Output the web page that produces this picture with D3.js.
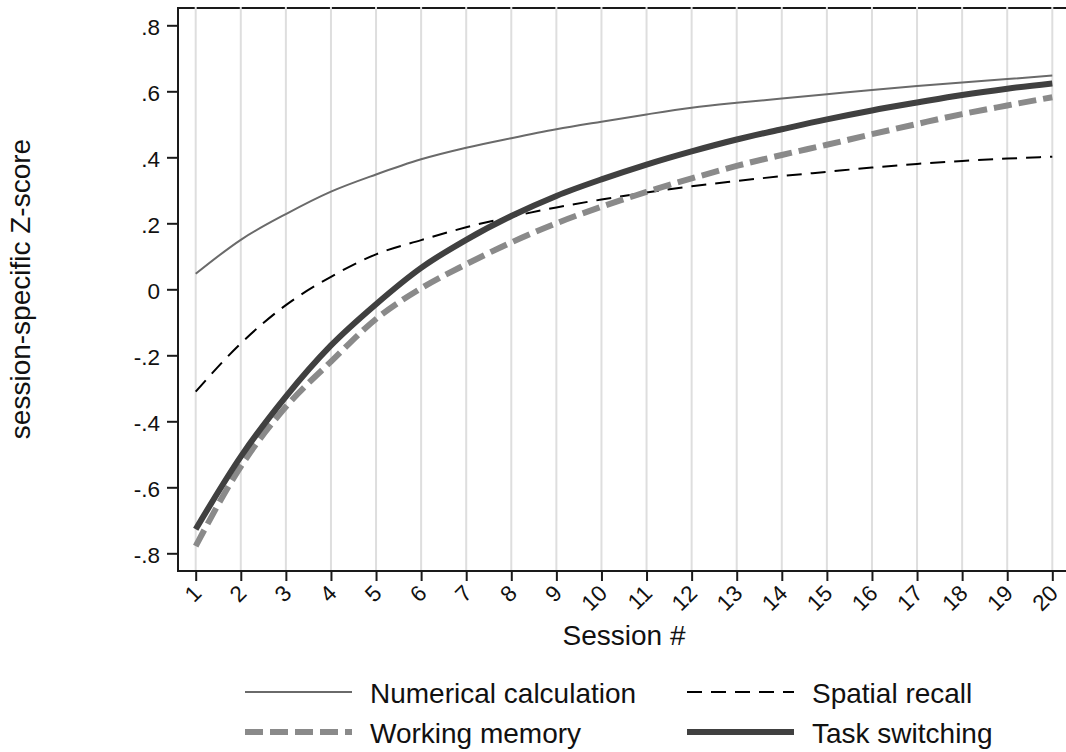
<!DOCTYPE html>
<html>
<head>
<meta charset="utf-8">
<script src="https://cdn.jsdelivr.net/npm/d3@7"></script>
<style>
  body { margin: 0; background: #fff; }
  svg { display: block; font-family: Arial, "Liberation Sans", sans-serif; }
</style>
</head>
<body>
<svg id="chart" width="1066" height="752"></svg>
<script>
// ---- data ----
const sessions = [1,2,3,4,5,6,7,8,9,10,11,12,13,14,15,16,17,18,19,20];
const numericalCalculation = [0.047,0.150,0.228,0.296,0.348,0.394,0.429,0.458,0.485,0.508,0.530,0.550,0.565,0.578,0.591,0.604,0.616,0.627,0.637,0.648];
const spatialRecall       = [-0.310,-0.164,-0.048,0.038,0.106,0.149,0.188,0.220,0.248,0.272,0.293,0.312,0.328,0.343,0.356,0.369,0.380,0.389,0.396,0.402];
const workingMemory       = [-0.778,-0.537,-0.356,-0.219,-0.090,0.003,0.076,0.142,0.200,0.250,0.295,0.336,0.374,0.407,0.438,0.470,0.501,0.531,0.557,0.582];
const taskSwitching       = [-0.727,-0.507,-0.325,-0.170,-0.045,0.065,0.150,0.222,0.283,0.333,0.378,0.418,0.454,0.485,0.515,0.542,0.566,0.589,0.608,0.624];
const yTickValues = [-0.8,-0.6,-0.4,-0.2,0,0.2,0.4,0.6,0.8];
const yTickLabels = ["-.8","-.6","-.4","-.2","0",".2",".4",".6",".8"];
const seriesNames = ["Numerical calculation","Spatial recall","Working memory","Task switching"];

// ---- layout ----
const svg = d3.select("#chart");
const plotLeft = 178, plotRight = 1066, plotTop = 8, plotBottom = 571;

const x = d3.scaleLinear().domain([1, 20]).range([195.7, 1052.3]);
const y = d3.scaleLinear().domain([-0.8, 0.8]).range([553.3, 25.3]);

const styles = [
  { color: "#6a6a6a", width: 2,   dash: null },
  { color: "#000000", width: 2,   dash: "15,9" },
  { color: "#8a8a8a", width: 6,   dash: "18,7" },
  { color: "#404040", width: 6,   dash: null }
];
const seriesData = [numericalCalculation, spatialRecall, workingMemory, taskSwitching];

// top border
svg.append("line")
  .attr("x1", plotLeft).attr("x2", plotRight)
  .attr("y1", plotTop).attr("y2", plotTop)
  .attr("stroke", "#1a1a1a").attr("stroke-width", 2);

// vertical gridlines
svg.append("g").selectAll("line").data(sessions).join("line")
  .attr("x1", d => x(d)).attr("x2", d => x(d))
  .attr("y1", plotTop - 1).attr("y2", plotBottom)
  .attr("stroke", "#dedede").attr("stroke-width", 2);

// series
const line = d3.line()
  .x((d, i) => x(sessions[i]))
  .y(d => y(d))
  .curve(d3.curveMonotoneX);

seriesData.forEach((vals, k) => {
  const st = styles[k];
  const p = svg.append("path")
    .datum(vals)
    .attr("d", line)
    .attr("fill", "none")
    .attr("stroke", st.color)
    .attr("stroke-width", st.width)
    .attr("stroke-linejoin", "round");
  if (st.dash) p.attr("stroke-dasharray", st.dash);
});

// y axis
const yAxis = d3.axisLeft(y)
  .tickValues(yTickValues)
  .tickFormat((d, i) => yTickLabels[i])
  .tickSize(11).tickSizeOuter(0).tickPadding(6);
const gy = svg.append("g").attr("transform", `translate(${plotLeft},0)`).call(yAxis);
gy.select(".domain").remove();
gy.selectAll(".tick line").attr("stroke", "#1a1a1a").attr("stroke-width", 2);
gy.selectAll(".tick text")
  .attr("font-size", 22.5).attr("fill", "#111")
  .attr("x", -18).attr("dy", null).attr("y", 9.5)
  .attr("text-anchor", "end");
svg.append("line")
  .attr("x1", plotLeft).attr("x2", plotLeft)
  .attr("y1", plotTop - 1).attr("y2", plotBottom + 1)
  .attr("stroke", "#1a1a1a").attr("stroke-width", 2);

// x axis
const xAxis = d3.axisBottom(x)
  .tickValues(sessions)
  .tickFormat(d3.format("d"))
  .tickSize(10).tickSizeOuter(0);
const gx = svg.append("g").attr("transform", `translate(0,${plotBottom})`).call(xAxis);
gx.select(".domain").remove();
gx.selectAll(".tick line").attr("stroke", "#1a1a1a").attr("stroke-width", 2);
gx.selectAll(".tick text")
  .attr("font-size", 22.5).attr("fill", "#111")
  .attr("y", null).attr("dy", "0.35em")
  .attr("text-anchor", "end")
  .attr("transform", "translate(1,18) rotate(-45)");
svg.append("line")
  .attr("x1", plotLeft - 1).attr("x2", plotRight)
  .attr("y1", plotBottom).attr("y2", plotBottom)
  .attr("stroke", "#1a1a1a").attr("stroke-width", 2);

// axis titles
svg.append("text")
  .attr("x", 624).attr("y", 645)
  .attr("text-anchor", "middle")
  .attr("font-size", 28).attr("fill", "#111")
  .text("Session #");
svg.append("text")
  .attr("transform", "translate(30,289) rotate(-90)")
  .attr("text-anchor", "middle")
  .attr("font-size", 28).attr("fill", "#111")
  .text("session-specific Z-score");

// legend
const legendPos = [
  { lx: 245, tx: 370, ly: 692 },
  { lx: 687, tx: 812, ly: 692 },
  { lx: 245, tx: 370, ly: 732 },
  { lx: 687, tx: 812, ly: 732 }
];
const lg = svg.append("g");
seriesNames.forEach((name, k) => {
  const st = styles[k], p = legendPos[k];
  const l = lg.append("line")
    .attr("x1", p.lx).attr("x2", p.lx + 107)
    .attr("y1", p.ly).attr("y2", p.ly)
    .attr("stroke", st.color).attr("stroke-width", st.width);
  if (st.dash) l.attr("stroke-dasharray", st.dash);
  lg.append("text")
    .attr("x", p.tx).attr("y", p.ly + 11)
    .attr("font-size", 28).attr("fill", "#111")
    .text(name);
});
</script>
</body>
</html>
